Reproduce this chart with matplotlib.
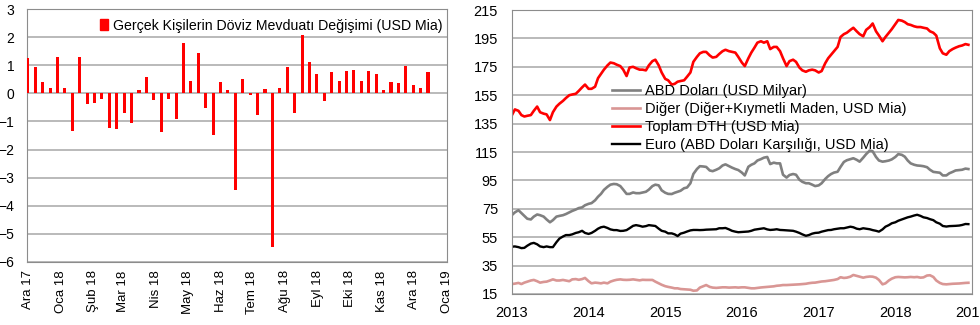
import pandas as pd
import matplotlib
matplotlib.use('Agg')
from matplotlib import pyplot as plt
import matplotlib.dates as mdates
from matplotlib.patches import Patch

plt.rcParams['font.family'] = ['Liberation Sans', 'DejaVu Sans']

# haftalık değişim (USD Mia), 1 Aralık 2017'den itibaren
bar_start = '2017-12-01'
degisim = [1.25, 0.93, 0.41, 0.18, 1.28, 0.18, -1.34, 1.30, -0.38, -0.33,
           -0.20, -1.22, -1.27, -0.69, -1.04, 0.12, 0.59, -0.24, -1.39, -0.20,
           -0.91, 1.78, 0.45, 1.45, -0.53, -1.48, 0.41, 0.12, -3.44, 0.51,
           -0.04, -0.77, 0.14, -5.46, 0.18, 0.95, -0.69, 2.07, 1.13, 0.69,
           -0.26, 0.75, 0.45, 0.79, 0.85, 0.45, 0.80, 0.68, 0.12, 0.41,
           0.38, 0.98, 0.30, 0.18, 0.75]
ay_etiket = ['Ara 17', 'Oca 18', 'Şub 18', 'Mar 18', 'Nis 18', 'May 18', 'Haz 18',
             'Tem 18', 'Ağu 18', 'Eyl 18', 'Eki 18', 'Kas 18', 'Ara 18', 'Oca 19']

# yarım aylık seviyeler, 2013 başından 2018 sonuna
toplam = [141, 145, 144, 141, 140, 140.5, 141, 144, 147, 143,
          142, 141.5, 137.5, 143, 147, 149, 151, 153, 155, 155.5,
          156, 158, 160.5, 162.5, 159.5, 159.5, 161, 167, 170, 173,
          176, 178, 177.5, 176.5, 175.5, 173, 168.5, 174.5, 175, 174,
          173, 173, 172.5, 176, 179, 180, 176, 171, 166.5, 165.5,
          162.5, 163, 164.5, 165, 165.5, 168, 171, 178.5, 182, 184.5,
          185.5, 185.5, 183, 181.5, 182, 184, 186, 187, 186, 185.5,
          185, 182, 178, 175.5, 181, 185, 188.5, 192, 193, 192,
          193, 187.5, 189, 189, 186, 181, 175.5, 179, 180, 178.5,
          174.5, 172.5, 171.5, 172.5, 173, 172.5, 171, 172, 177.5, 181,
          183.5, 186, 189, 196, 198, 199, 201, 202.5, 200, 198,
          196.5, 201, 203, 205.5, 200, 197, 193, 196, 199, 201.5,
          205, 208, 207.5, 206.5, 205, 204.5, 203.5, 203, 203, 202.5,
          202, 200, 199, 197, 188, 184.5, 183.5, 186, 187.5, 188.5,
          189.5, 190, 191, 190.5]
usd = [70.6, 72.5, 74, 72, 70, 68, 67.5, 69.5, 71, 70.5,
       69.5, 67.5, 65.5, 67, 69.5, 70, 70.5, 71.3, 72.5, 73.5,
       74.5, 75.5, 76, 77.5, 78.5, 79, 81, 83.5, 85.5, 88.3,
       90.5, 92, 92.5, 92.3, 91, 88.5, 85.5, 85.5, 86.5, 86,
       86, 86.5, 87, 88.5, 91, 92, 91.5, 88, 86.3, 85.5,
       85.4, 86.3, 87, 87.7, 89.5, 90, 93, 99.5, 103, 105,
       104.8, 104.5, 102, 101.5, 102.5, 103.5, 105.5, 106.3, 105, 104,
       103, 102.3, 100.5, 98.5, 104.6, 106, 107, 109, 110, 111,
       111.5, 106.5, 107.5, 107, 107, 99, 97, 98.8, 99.5, 99,
       95.5, 94, 93, 93, 92, 91, 91.5, 93, 96, 98,
       99.5, 100.5, 101.1, 104.5, 108, 109.2, 110, 110.6, 109.5, 108.2,
       111, 113.5, 116, 115.5, 111.5, 109, 108.2, 108.5, 109, 109.8,
       111.5, 113.5, 113, 111.7, 109, 107, 106, 105.5, 105.3, 105,
       104.3, 102.5, 101, 100.7, 100.4, 98.5, 98.5, 100, 101, 102,
       102.3, 102.5, 103.3, 103]
euro = [48.3, 48.5, 48, 47.3, 47.5, 49, 50.5, 51, 50, 48.5,
        48, 48.5, 48, 48, 51.5, 54, 55.5, 56.5, 56.5, 57,
        58, 58.5, 59.5, 58, 57.3, 58, 59.5, 61, 62, 62.4,
        61.5, 60.5, 60, 60, 59.4, 59.5, 60, 61.3, 63, 63.5,
        63, 62.4, 62.8, 63.5, 63.2, 62.9, 61, 59.5, 58.9, 57.7,
        57.7, 57, 55.8, 57.5, 58.2, 59, 59.8, 60.1, 60.1, 60,
        60.1, 60.3, 60.4, 60.5, 60.6, 61.3, 61.3, 61.5, 60.5, 59.5,
        58.9, 58.5, 58.7, 58.9, 59, 59.5, 60.3, 60.6, 61, 61.3,
        60.5, 60.1, 60.3, 60.6, 60.1, 60, 59.8, 59.6, 59.5, 58.9,
        58, 57, 56, 56.5, 57.5, 58, 58.2, 58.9, 59.5, 60,
        60.1, 60.6, 61, 61.3, 61.3, 61.8, 62.4, 62, 61, 60.6,
        61.3, 61, 60.6, 60, 59.5, 58.9, 60.5, 62.4, 63.5, 64.8,
        65.5, 66.6, 67.5, 68.3, 69, 69.5, 70.3, 70.8, 70, 69,
        68.5, 67.7, 67, 65.5, 64.5, 62.9, 62.5, 62.8, 62.9, 63,
        63.2, 63.6, 64.3, 64.2]
diger = [22, 22.3, 22.8, 22, 23, 23.7, 24.5, 24.9, 24, 23,
         23.5, 23.7, 24.5, 25.3, 24.5, 24.5, 24.9, 24.5, 24, 25.3,
         25.5, 25, 25.5, 26.3, 24, 22.5, 23, 22.8, 22.5, 23,
         22.5, 23.7, 24.5, 25, 25.3, 25, 24.9, 25, 25.3, 25,
         24.6, 25, 24.9, 24.9, 24.9, 23.7, 22.5, 21.5, 20.5, 20,
         19.5, 19, 19, 18.5, 18.3, 18.2, 18, 17.3, 17.5, 19.5,
         20.5, 21.3, 20, 19.5, 19.3, 19.5, 19.7, 19.7, 19.5, 19.6,
         19.7, 19.5, 19.7, 19.7, 19.3, 19, 19, 19.3, 19.6, 19.8,
         20, 20.2, 20.4, 20.8, 21, 21.3, 21.3, 21.4, 21.5, 21.6,
         21.8, 22, 22.2, 22.6, 22.9, 23, 23.4, 23.8, 24, 24.3,
         24.6, 24.9, 25.5, 26.8, 26.3, 26.5, 27.2, 28.4, 27.8, 27.2,
         26.5, 27, 27.3, 27.2, 26.5, 24.9, 21.8, 22.5, 24.5, 25.8,
         26.8, 27, 26.8, 26.7, 26.8, 27, 26.8, 27, 26.5, 26.7,
         28, 28.2, 27, 24.5, 22.8, 22, 21.8, 22, 22.2, 22.3,
         22.4, 22.6, 22.8, 22.9]

haftalar = pd.date_range(bar_start, periods=len(degisim), freq='7D')
tarihler = pd.date_range('2013-01-01', periods=len(toplam), freq='SMS')

fig = plt.figure(figsize=(9.8, 3.25), dpi=100)
grid_c = '#b4b4b4'
frame_c = '#8c8c8c'

# --- sol: haftalık değişim ---
ax1 = fig.add_axes([0.0276, 0.194, 0.4286, 0.778])
ax1.bar(haftalar, degisim, width=2.9, color='#ff0000', zorder=3)
ax1.set_ylim(-6, 3)
ax1.set_yticks(range(-6, 4))
ax1.set_xlim(pd.Timestamp('2017-11-30 06:00'), pd.Timestamp('2019-01-01'))
aylar = pd.date_range('2017-12-01', periods=len(ay_etiket), freq='MS')
ax1.set_xticks(aylar)
ax1.set_xticklabels(ay_etiket, rotation=90, fontsize=9.5)
ax1.yaxis.grid(True, color=grid_c, lw=1.3, zorder=0)
ax1.tick_params(axis='y', length=0, pad=9, labelsize=10)
ax1.tick_params(axis='x', length=0, pad=6)
for s in ax1.spines.values():
    s.set_color(frame_c)
ax1.legend(handles=[Patch(color='#ff0000')],
           labels=['Gerçek Kişilerin Döviz Mevduatı Değişimi (USD Mia)'],
           loc='upper right', bbox_to_anchor=(1.002, 0.985), frameon=False,
           fontsize=10.2, handlelength=0.6, handleheight=0.8, handletextpad=0.3,
           borderaxespad=0)

# --- sağ: döviz tevdiat hesapları ---
ax2 = fig.add_axes([0.5224, 0.0954, 0.4694, 0.8738])
ax2.plot(tarihler, usd, color='#808080', lw=1.9, label='ABD Doları (USD Milyar)')
ax2.plot(tarihler, diger, color='#d99694', lw=1.9,
         label='Diğer (Diğer+Kıymetli Maden, USD Mia)')
ax2.plot(tarihler, toplam, color='#ff0000', lw=1.9, label='Toplam DTH (USD Mia)')
ax2.plot(tarihler, euro, color='#000000', lw=1.7,
         label='Euro (ABD Doları Karşılığı, USD Mia)')
ax2.set_ylim(15, 215)
ax2.set_yticks(range(15, 216, 20))
ax2.set_xlim(pd.Timestamp('2013-01-01'), pd.Timestamp('2019-01-01'))
ax2.xaxis.set_major_locator(mdates.YearLocator())
ax2.xaxis.set_major_formatter(mdates.DateFormatter('%Y'))
ax2.yaxis.grid(True, color=grid_c, lw=1.3, zorder=0)
ax2.tick_params(axis='y', length=0, pad=10, labelsize=10.5)
ax2.tick_params(axis='x', length=0, pad=9, labelsize=10.5)
for s in ax2.spines.values():
    s.set_color(frame_c)
ax2.legend(loc='upper left', bbox_to_anchor=(0.205, 0.76), frameon=False,
           fontsize=10.5, handlelength=1.9, handletextpad=0.35,
           labelspacing=0.28, borderaxespad=0)

fig.savefig('out.png', dpi=100)
